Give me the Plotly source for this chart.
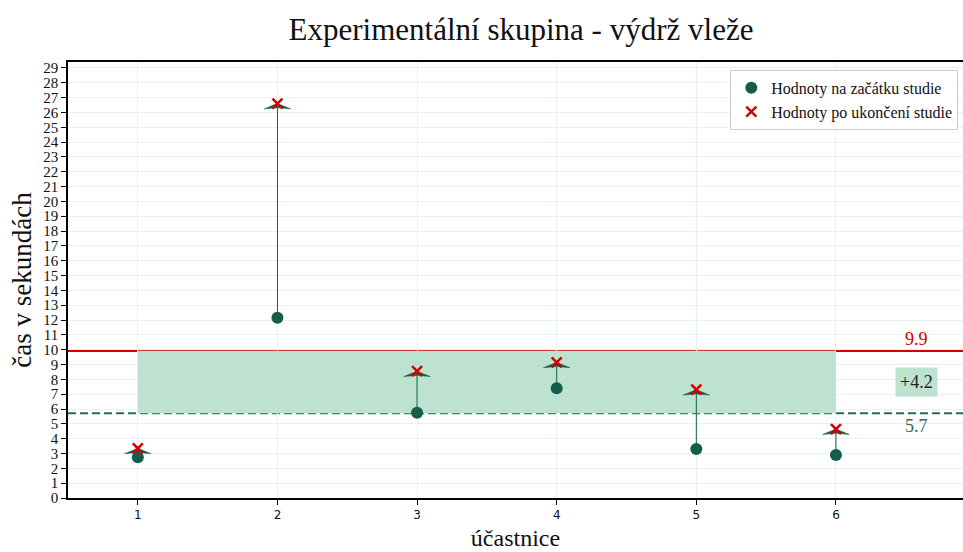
import plotly.graph_objects as go

# Participants and hold times (seconds)
participants = [1, 2, 3, 4, 5, 6]
start_values = [2.75, 12.15, 5.75, 7.4, 3.3, 2.9]
end_values = [3.35, 26.6, 8.55, 9.15, 7.3, 4.65]
y_ticks = list(range(0, 30))

DARK_GREEN = "#135e4b"
RED = "#d40000"
FILL_GREEN = "#bde3d0"
GRID = "#e6f2ee"
SERIF = "Liberation Serif, Times New Roman, serif"

mean_start = sum(start_values) / len(start_values)
mean_end = sum(end_values) / len(end_values)
diff = mean_end - mean_start

fig = go.Figure()

# stems from start to end value
sx, sy = [], []
for p, s, e in zip(participants, start_values, end_values):
    sx += [p, p, None]
    sy += [s, e - 0.3, None]
fig.add_trace(go.Scatter(x=sx, y=sy, mode="lines",
                         line=dict(color=DARK_GREEN, width=1),
                         hoverinfo="skip", showlegend=False))

# arrow heads (flat triangles pointing up to the end value)
hw, hl = 0.095, 0.36
hx, hy = [], []
for p, e in zip(participants, end_values):
    hx += [p, p - hw, p, p + hw, p, None]
    hy += [e, e - hl, e - hl * 0.8, e - hl, e, None]
fig.add_trace(go.Scatter(x=hx, y=hy, mode="lines", fill="toself",
                         fillcolor=DARK_GREEN, line=dict(color=DARK_GREEN, width=0.5),
                         hoverinfo="skip", showlegend=False))

fig.add_trace(go.Scatter(x=participants, y=start_values, mode="markers",
                         name="Hodnoty na začátku studie",
                         marker=dict(color=DARK_GREEN, size=12, symbol="circle")))
fig.add_trace(go.Scatter(x=participants, y=end_values, mode="markers",
                         name="Hodnoty po ukončení studie",
                         marker=dict(color=RED, size=10, symbol="x-thin",
                                     line=dict(color=RED, width=2.5))))

# band between the two means
fig.add_shape(type="rect", xref="x", yref="y", x0=participants[0], x1=participants[-1],
              y0=mean_start, y1=mean_end, fillcolor=FILL_GREEN, line_width=0,
              layer="between")
fig.add_shape(type="line", xref="paper", yref="y", x0=0, x1=1, y0=mean_end, y1=mean_end,
              line=dict(color=RED, width=2.5), layer="between")
fig.add_shape(type="line", xref="paper", yref="y", x0=0, x1=1, y0=mean_start, y1=mean_start,
              line=dict(color="#2a6b58", width=2, dash="8px,4px"), layer="between")

label_x = 6.58
fig.add_annotation(x=label_x, y=mean_end, yshift=12, text=f"{mean_end:.1f}",
                   showarrow=False, font=dict(family=SERIF, size=18, color=RED))
fig.add_annotation(x=label_x, y=mean_start, yshift=-13, text=f"{mean_start:.1f}",
                   showarrow=False, font=dict(family=SERIF, size=18, color="#2a6b58"))
fig.add_annotation(x=label_x, y=(mean_start + mean_end) / 2, text=f"+{diff:.1f}",
                   showarrow=False, bgcolor=FILL_GREEN, borderpad=4,
                   font=dict(family=SERIF, size=18, color="#222222"))

fig.update_layout(
    width=963, height=552,
    margin=dict(l=68, r=0, t=62, b=54),
    paper_bgcolor="white", plot_bgcolor="white",
    title=dict(text="Experimentální skupina - výdrž vleže", x=521 / 963, xanchor="center",
               y=1 - 29 / 552, yanchor="middle",
               font=dict(family=SERIF, size=31, color="#111111")),
    legend=dict(x=0.74, y=0.982, xanchor="left", yanchor="top",
                bgcolor="white", bordercolor="#cccccc", borderwidth=1,
                font=dict(family=SERIF, size=16, color="#111111"),
                tracegroupgap=0),
    showlegend=True,
)
fig.update_xaxes(range=[0.5, 6.91], tickvals=participants,
                 ticks="outside", ticklen=5, tickcolor="black",
                 showline=True, linecolor="black", linewidth=1.5, mirror=True,
                 showgrid=True, gridcolor=GRID, zeroline=False,
                 tickfont=dict(family="DejaVu Sans", size=12, color="#111111"),
                 title=dict(text="účastnice", font=dict(family=SERIF, size=24, color="#111111"),
                            standoff=8))
fig.update_yaxes(range=[0, 29.4], tickvals=y_ticks,
                 ticks="outside", ticklen=5, tickcolor="black",
                 showline=True, linecolor="black", linewidth=1.5,
                 showgrid=True, gridcolor=GRID, zeroline=False,
                 tickfont=dict(family=SERIF, size=15, color="#111111"),
                 title=dict(text="čas v sekundách", font=dict(family=SERIF, size=27, color="#111111"),
                            standoff=4))

fig.write_html("out.html")
